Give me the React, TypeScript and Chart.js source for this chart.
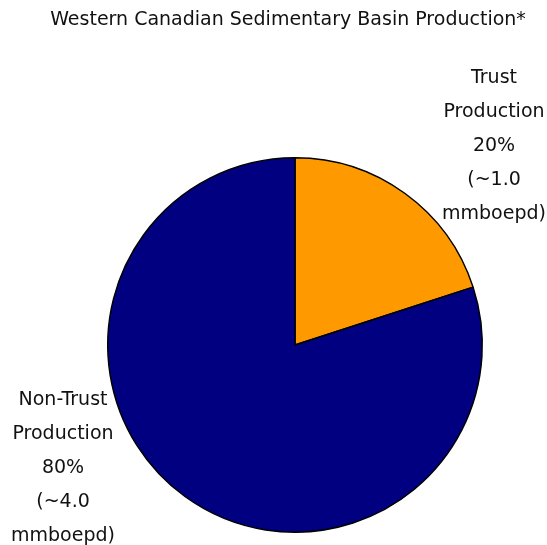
import React, { useEffect, useRef } from "react";
import { Chart, registerables } from "chart.js";
Chart.register(...registerables);

const categories = ["Trust Production", "Non-Trust Production"];
const shares = [20, 80];
const colors = ["#FF9900", "#000080"];
const titleText = "Western Canadian Sedimentary Basin Production*";
const trustLabel = ["Trust", "Production", "20%", "(~1.0", "mmboepd)"];
const nonTrustLabel = ["Non-Trust", "Production", "80%", "(~4.0", "mmboepd)"];

const FONT = '19px "DejaVu Sans", sans-serif';

const textPlugin = {
  id: "texts",
  afterDraw(chart: any) {
    const ctx = chart.ctx;
    ctx.save();
    ctx.fillStyle = "#111";
    ctx.font = FONT;
    ctx.textAlign = "center";
    ctx.textBaseline = "middle";
    ctx.fillText(titleText, 288, 20);
    trustLabel.forEach((t, i) => ctx.fillText(t, 494, 78 + i * 34));
    nonTrustLabel.forEach((t, i) => ctx.fillText(t, 63, 400 + i * 34));
    ctx.restore();
  },
};

export default function App() {
  const ref = useRef<HTMLCanvasElement>(null);
  useEffect(() => {
    const chart = new Chart(ref.current!, {
      type: "pie",
      data: {
        labels: categories,
        datasets: [
          {
            data: shares,
            backgroundColor: colors,
            borderColor: "#000",
            borderWidth: 1.5,
          },
        ],
      },
      options: {
        responsive: false,
        animation: false,
        layout: { padding: { left: 107, right: 64, top: 157, bottom: 12 } },
        plugins: {
          legend: { display: false },
          tooltip: { enabled: false },
          title: { display: false },
        },
      },
      plugins: [textPlugin],
    });
    return () => chart.destroy();
  }, []);
  return (
    <div style={{ position: "fixed", left: 0, top: 0, width: 547, height: 545, background: "#fff" }}>
      <canvas ref={ref} width={547} height={545} style={{ width: 547, height: 545 }} />
    </div>
  );
}
